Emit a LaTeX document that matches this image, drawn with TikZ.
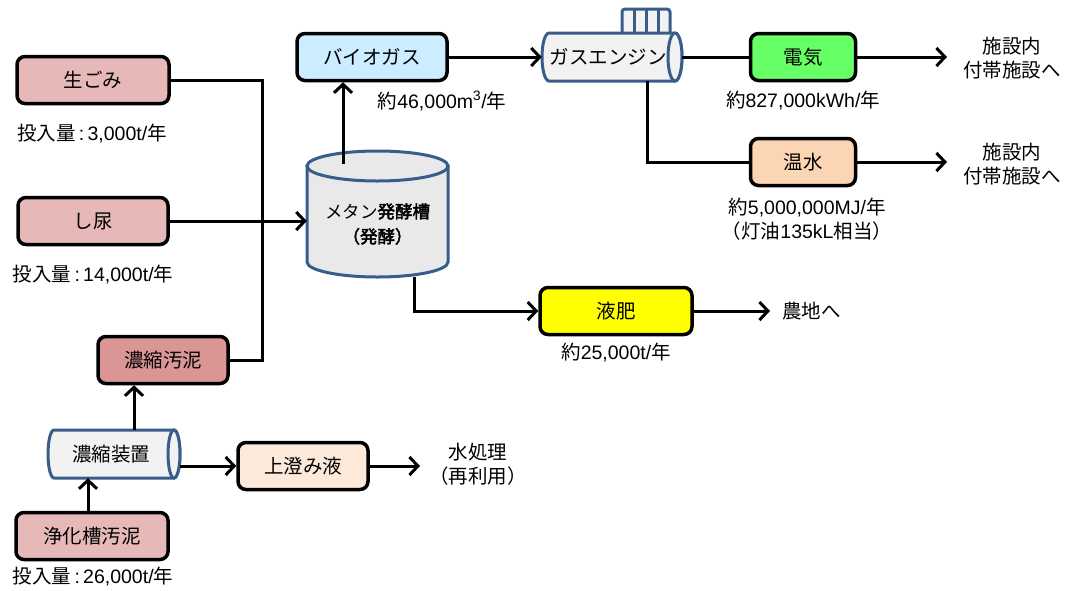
\documentclass[tikz,border=0pt]{standalone}
\usepackage{fontspec}
\setmainfont{Noto Sans CJK JP}[AutoFakeBold=2.5]
\newfontfamily\lat{Liberation Sans}
\usetikzlibrary{arrows.meta}
\definecolor{rawc}{HTML}{E6B9B8}
\definecolor{sludgec}{HTML}{D99694}
\definecolor{bioc}{HTML}{CCECFF}
\definecolor{elecc}{HTML}{66FF66}
\definecolor{hotc}{HTML}{FCD5B5}
\definecolor{liqc}{HTML}{FFFF00}
\definecolor{supc}{HTML}{FDE9D9}
\definecolor{cylblue}{HTML}{385D8A}
\definecolor{cylfill}{HTML}{F2F2F2}
\definecolor{tankfill}{HTML}{E9E9E9}
\begin{document}
\begin{tikzpicture}[x=1pt,y=-1pt,
  box/.style={draw=black, line width=3.5pt, rounded corners=8pt, minimum height=47pt, inner sep=0pt, font=\fontsize{19.5}{21}\selectfont},
  lbl/.style={font=\fontsize{19.5}{24}\selectfont, align=center, inner sep=0pt},
  txt/.style={font=\fontsize{19.5}{21}\selectfont, inner sep=0pt},
  arr/.style={line width=3pt, -{Straight Barb[length=8.5pt,width=18pt]}},
  ln/.style={line width=3pt},
  cyl/.style={draw=cylblue, line width=3pt, fill=cylfill}]
\useasboundingbox (0,0) rectangle (1065,590);

% ---- input boxes
\node[box, fill=rawc, minimum width=152pt] (gomi) at (93,80) {生ごみ};
\node[lbl] (gomiq) at (92,134) {投入量{\lat\,:\,3,000t/}年};
\node[box, fill=rawc, minimum width=150pt] (sinyo) at (93,221) {し尿};
\node[lbl] (sinyoq) at (93,275) {投入量{\lat\,:\,14,000t/}年};
\node[box, fill=sludgec, minimum width=130pt] (nosl) at (163,360) {濃縮汚泥};
\node[box, fill=rawc, minimum width=152pt] (joka) at (92,536) {浄化槽汚泥};
\node[lbl] (jokaq) at (93,577) {投入量{\lat\,:\,26,000t/}年};

% ---- concentrator cylinder
\path[cyl] (174,430) -- (54,430) arc[start angle=270,end angle=90,x radius=6,y radius=24] -- (174,478) arc[start angle=90,end angle=-90,x radius=6,y radius=24] -- cycle;
\draw[cyl] (174,454) ellipse[x radius=6,y radius=24];
\node[txt, minimum width=132pt, minimum height=48pt] (conc) at (114,454) {\hspace*{-6pt}濃縮装置};

\node[box, fill=supc, minimum width=130pt] (sup) at (303,466) {上澄み液};
\node[lbl] (water) at (478,464) {水処理\\（再利用）};

% ---- methane tank
\path[cyl, fill=tankfill] (307,166) -- (307,262) arc[start angle=180,end angle=0,x radius=70.5,y radius=15] -- (448,166) -- cycle;
\draw[cyl, fill=tankfill] (377.5,166) ellipse[x radius=70.5,y radius=15];
\node[txt, minimum width=141pt, minimum height=127pt] (tank) at (377.5,213.5) {};
\node[lbl, font=\fontsize{17.5}{25}\selectfont] (tanktxt) at (377.5,224) {メタン\textbf{発酵槽}\\\textbf{（発酵）}};
\coordinate (tanktop) at (343,164);
\coordinate (tankbot) at (414,277);

% ---- biogas / engine
\node[box, fill=bioc, minimum width=150pt] (bio) at (372,57) {バイオガス};
\node[lbl] (bioq) at (442,101) {約{\lat 46,000m\textsuperscript{3}/}年};

\draw[cyl, rounded corners=3pt] (622,33) -- (622,9) -- (670,9) -- (670,33);
\draw[cylblue, line width=3pt] (634,9) -- (634,33) (646,9) -- (646,33) (658,9) -- (658,33);
\path[cyl] (675,33) -- (549,33) arc[start angle=270,end angle=90,x radius=7,y radius=24] -- (675,81) arc[start angle=90,end angle=-90,x radius=7,y radius=24] -- cycle;
\draw[cyl] (675,57) ellipse[x radius=7,y radius=24];
\node[txt, minimum width=140pt, minimum height=48pt] (eng) at (612,57) {\hspace*{-8pt}ガスエンジン};
\coordinate (engbot) at (647,81);

% ---- outputs
\node[box, fill=elecc, minimum width=105pt] (elec) at (803,57) {電気};
\node[lbl] (elecq) at (803,101) {約{\lat 827,000kWh/}年};
\node[lbl] (dst1) at (1012,58) {施設内\\付帯施設へ};
\coordinate (e1) at (947,57);

\node[box, fill=hotc, minimum width=105pt] (hot) at (803,162) {温水};
\node[lbl] (hotq) at (807,219) {約{\lat 5,000,000MJ/}年\\（灯油{\lat 135kL}相当）};
\node[lbl] (dst2) at (1012,164) {施設内\\付帯施設へ};
\coordinate (e2) at (947,162);

\node[box, fill=liqc, minimum width=152pt] (liq) at (616,311) {液肥};
\node[lbl] (liqq) at (616,353) {約{\lat 25,000t/}年};
\node[lbl, anchor=west] (farm) at (782,311) {農地へ};
\coordinate (e3) at (770,311);
\coordinate (e4) at (420,466);

% ---- connectors
\coordinate (junc) at (262,80);
\draw[ln] (gomi.east) -- (junc) -- (junc |- nosl.east) -- (nosl.east);
\draw[arr] (sinyo.east) -- (sinyo.east -| tank.west);
\draw[arr] ([xshift=20pt]conc.north) -- ([xshift=20pt]conc.north |- nosl.south);
\draw[arr] ([xshift=-4pt]joka.north) -- ([xshift=-4pt]joka.north |- conc.south);
\draw[arr] (conc.east |- sup.west) -- (sup.west);
\draw[arr] (sup.east) -- (e4);
\draw[arr] (tanktop) -- (tanktop |- bio.south);
\draw[arr] (bio.east) -- (eng.west);
\draw[ln] (eng.east) -- (elec.west);
\draw[arr] (elec.east) -- (e1);
\draw[ln] (engbot) -- (engbot |- hot.west) -- (hot.west);
\draw[arr] (hot.east) -- (e2);
\draw[arr] (tankbot) |- (liq.west);
\draw[arr] (liq.east) -- (e3);
\end{tikzpicture}
\end{document}
